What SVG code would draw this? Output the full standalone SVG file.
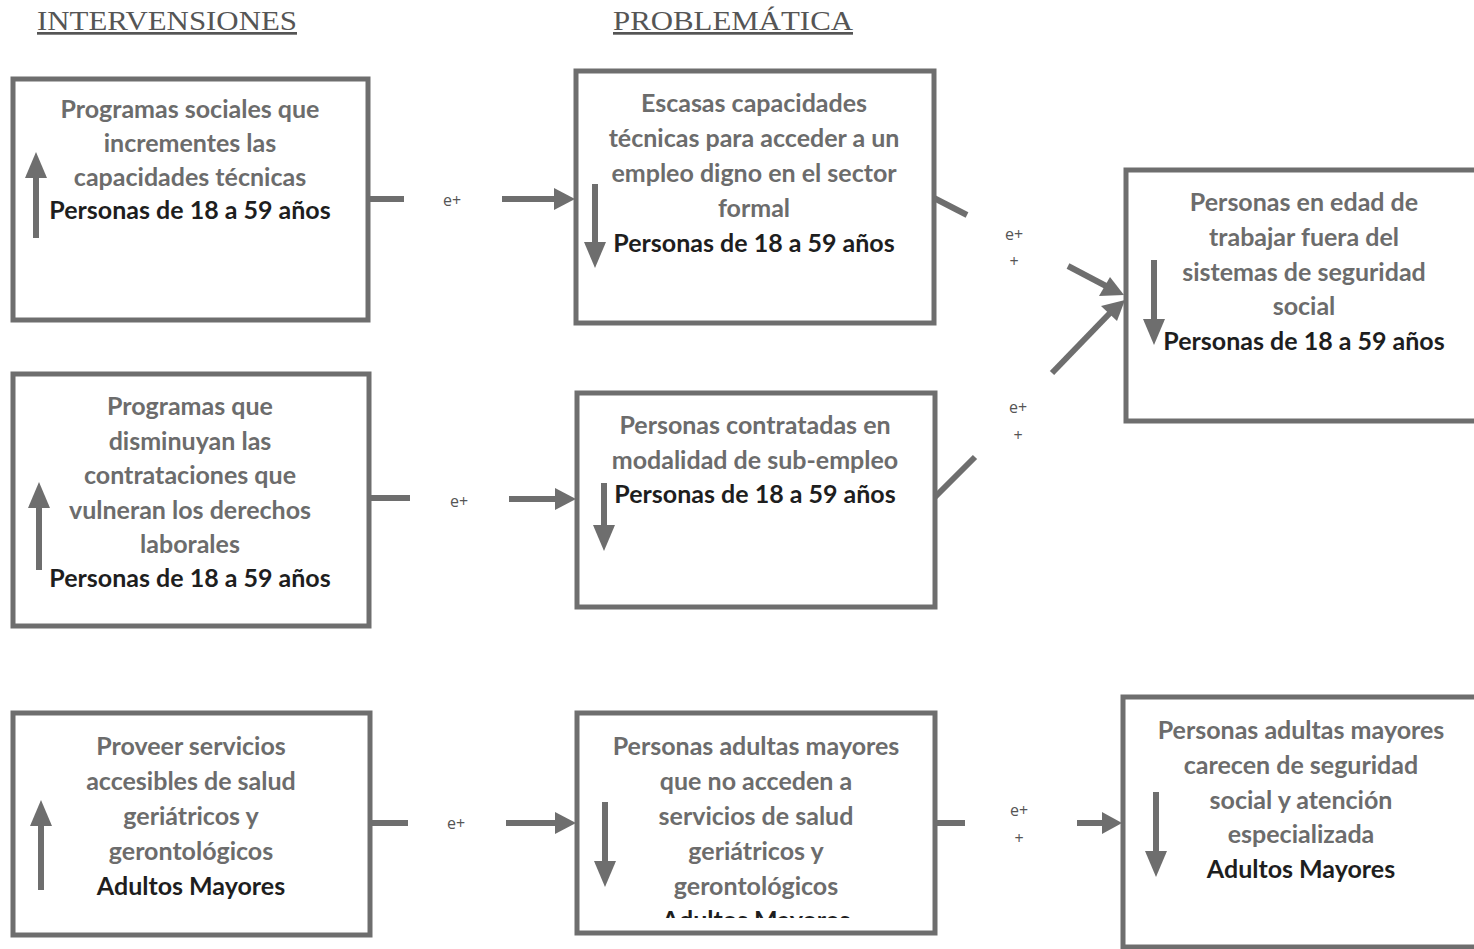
<svg xmlns="http://www.w3.org/2000/svg" width="1474" height="949" viewBox="0 0 1474 949">
<style>
.box{fill:#fff;stroke:#6e6e6e;stroke-width:5}
.t{font-family:Lato,"Open Sans",sans-serif;font-weight:bold;font-size:25px;fill:#6c6c6c;text-anchor:middle}
.k{fill:#1e1e1e}
.h{font-family:"Liberation Serif",serif;font-size:27px;fill:#555;text-decoration:underline}
.lab{font-family:"Open Sans",sans-serif;font-size:16px;fill:#555;text-anchor:middle}
.ln{stroke:#6e6e6e;stroke-width:6;fill:none}
.ar{fill:#6e6e6e}
</style>
<defs>
<clipPath id="c7"><rect x="578" y="715" width="355" height="203"/></clipPath>
</defs>
<rect width="1474" height="949" fill="#fff"/>
<text class="h" x="37" y="30" textLength="260" lengthAdjust="spacingAndGlyphs">INTERVENSIONES</text>
<text class="h" x="613" y="30" textLength="240" lengthAdjust="spacingAndGlyphs">PROBLEMÁTICA</text>

<g id="n1">
<rect class="box" x="13" y="79" width="355" height="241"/>
<text class="t" x="190" y="118">Programas sociales que</text>
<text class="t" x="190" y="152">incrementes las</text>
<text class="t" x="190" y="186">capacidades técnicas</text>
<text class="t k" x="190" y="219">Personas de 18 a 59 años</text>
<line class="ln" x1="36" y1="238" x2="36" y2="175"/><polygon class="ar" points="25,178 47,178 36,152"/>
</g>
<g id="n2">
<rect class="box" x="576" y="71" width="358" height="252"/>
<text class="t" x="754" y="112">Escasas capacidades</text>
<text class="t" x="754" y="147">técnicas para acceder a un</text>
<text class="t" x="754" y="182">empleo digno en el sector</text>
<text class="t" x="754" y="217">formal</text>
<text class="t k" x="754" y="252">Personas de 18 a 59 años</text>
<line class="ln" x1="595" y1="184" x2="595" y2="245"/><polygon class="ar" points="584,242 606,242 595,268"/>
</g>
<g id="n3">
<rect class="box" x="1126" y="170" width="352" height="251"/>
<text class="t" x="1304" y="211">Personas en edad de</text>
<text class="t" x="1304" y="246">trabajar fuera del</text>
<text class="t" x="1304" y="281">sistemas de seguridad</text>
<text class="t" x="1304" y="315">social</text>
<text class="t k" x="1304" y="350">Personas de 18 a 59 años</text>
<line class="ln" x1="1154" y1="260" x2="1154" y2="322"/><polygon class="ar" points="1143,319 1165,319 1154,345"/>
</g>
<g id="n4">
<rect class="box" x="13" y="374" width="356" height="252"/>
<text class="t" x="190" y="415">Programas que</text>
<text class="t" x="190" y="450">disminuyan las</text>
<text class="t" x="190" y="484">contrataciones que</text>
<text class="t" x="190" y="519">vulneran los derechos</text>
<text class="t" x="190" y="553">laborales</text>
<text class="t k" x="190" y="587">Personas de 18 a 59 años</text>
<line class="ln" x1="39" y1="570" x2="39" y2="505"/><polygon class="ar" points="28,508 50,508 39,482"/>
</g>
<g id="n5">
<rect class="box" x="577" y="393" width="358" height="214"/>
<text class="t" x="755" y="434">Personas contratadas en</text>
<text class="t" x="755" y="469">modalidad de sub-empleo</text>
<text class="t k" x="755" y="503">Personas de 18 a 59 años</text>
<line class="ln" x1="604" y1="483" x2="604" y2="528"/><polygon class="ar" points="593,525 615,525 604,551"/>
</g>
<g id="n6">
<rect class="box" x="13" y="713" width="357" height="222"/>
<text class="t" x="191" y="755">Proveer servicios</text>
<text class="t" x="191" y="790">accesibles de salud</text>
<text class="t" x="191" y="825">geriátricos y</text>
<text class="t" x="191" y="860">gerontológicos</text>
<text class="t k" x="191" y="895">Adultos Mayores</text>
<line class="ln" x1="41" y1="890" x2="41" y2="823"/><polygon class="ar" points="30,826 52,826 41,800"/>
</g>
<g id="n7">
<rect class="box" x="577" y="713" width="358" height="220"/>
<g clip-path="url(#c7)">
<text class="t" x="756" y="755">Personas adultas mayores</text>
<text class="t" x="756" y="790">que no acceden a</text>
<text class="t" x="756" y="825">servicios de salud</text>
<text class="t" x="756" y="860">geriátricos y</text>
<text class="t" x="756" y="895">gerontológicos</text>
<text class="t k" x="756" y="929">Adultos Mayores</text>
</g>
<line class="ln" x1="605" y1="802" x2="605" y2="864"/><polygon class="ar" points="594,861 616,861 605,887"/>
</g>
<g id="n8">
<rect class="box" x="1123" y="697" width="355" height="250"/>
<text class="t" x="1301" y="739">Personas adultas mayores</text>
<text class="t" x="1301" y="774">carecen de seguridad</text>
<text class="t" x="1301" y="809">social y atención</text>
<text class="t" x="1301" y="843">especializada</text>
<text class="t k" x="1301" y="878">Adultos Mayores</text>
<line class="ln" x1="1156" y1="792" x2="1156" y2="854"/><polygon class="ar" points="1145,851 1167,851 1156,877"/>
</g>

<g id="connectors">
<line class="ln" x1="368" y1="199" x2="404" y2="199"/>
<text class="lab" x="452" y="206">e+</text>
<line class="ln" x1="502" y1="199" x2="556" y2="199"/><polygon class="ar" points="554,188 554,210 575,199"/>

<line class="ln" x1="934" y1="198" x2="967" y2="215"/>
<text class="lab" x="1014" y="240">e+</text>
<text class="lab" x="1014" y="267">+</text>
<line class="ln" x1="1068" y1="266" x2="1106" y2="286"/><polygon class="ar" points="1099,296 1110,277 1124,295"/>

<line class="ln" x1="935" y1="497" x2="975" y2="457"/>
<text class="lab" x="1018" y="413">e+</text>
<text class="lab" x="1018" y="441">+</text>
<line class="ln" x1="1052" y1="373" x2="1110" y2="313"/><polygon class="ar" points="1101,306 1117,321 1125,300"/>

<line class="ln" x1="369" y1="498" x2="410" y2="498"/>
<text class="lab" x="459" y="507">e+</text>
<line class="ln" x1="509" y1="499" x2="557" y2="499"/><polygon class="ar" points="555,488 555,510 576,499"/>

<line class="ln" x1="370" y1="823" x2="408" y2="823"/>
<text class="lab" x="456" y="829">e+</text>
<line class="ln" x1="506" y1="823" x2="557" y2="823"/><polygon class="ar" points="555,812 555,834 576,823"/>

<line class="ln" x1="935" y1="823" x2="965" y2="823"/>
<text class="lab" x="1019" y="816">e+</text>
<text class="lab" x="1019" y="844">+</text>
<line class="ln" x1="1077" y1="823" x2="1104" y2="823"/><polygon class="ar" points="1102,812 1102,834 1122,823"/>
</g>
</svg>
